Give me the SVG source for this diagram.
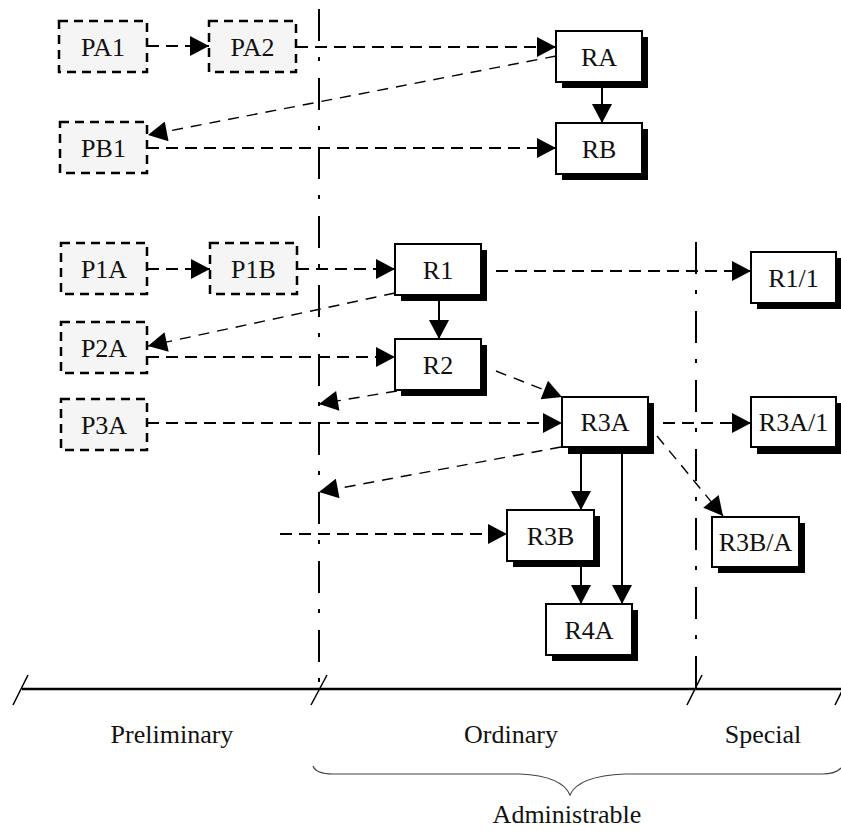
<svg xmlns="http://www.w3.org/2000/svg" width="841" height="831" viewBox="0 0 841 831">
<style>
.pbox{fill:#f5f5f5;stroke:#000;stroke-width:2.5;stroke-dasharray:9,6}
.rbox{fill:#fff;stroke:#000;stroke-width:2}
.shadow{fill:#000}
.lbl{font-family:"Liberation Serif","Times New Roman",serif;font-size:26px;text-anchor:middle;fill:#111}
.dash{fill:none;stroke:#000;stroke-width:2;stroke-dasharray:12,7;marker-end:url(#ah)}
.dashd{fill:none;stroke:#000;stroke-width:1.4;stroke-dasharray:11,8;marker-end:url(#ah)}
.solid{fill:none;stroke:#000;stroke-width:2;marker-end:url(#ah)}
.phase{fill:none;stroke:#000;stroke-width:2;stroke-dasharray:32,16,4,17}
.axis{fill:none;stroke:#000;stroke-width:2.5}
.tick{fill:none;stroke:#000;stroke-width:1.5}
</style>
<defs>
<marker id="ah" markerUnits="userSpaceOnUse" markerWidth="20" markerHeight="20" viewBox="0 0 19 20" refX="19" refY="10" orient="auto">
<path d="M0,0 L19,10 L0,20 z" fill="#000"/>
</marker>
</defs>
<rect width="841" height="831" fill="#fff"/>
<g id="phase-lines">
<line class="phase" x1="319" y1="9" x2="319" y2="690"/>
<line class="phase" x1="696" y1="242" x2="696" y2="690"/>
</g>
<g id="axis">
<line class="axis" x1="22" y1="689" x2="841" y2="689"/>
<line class="tick" x1="13" y1="705" x2="28" y2="675"/>
<line class="tick" x1="311" y1="705" x2="327" y2="675"/>
<line class="tick" x1="687" y1="705" x2="702" y2="675"/>
<line class="tick" x1="835" y1="705" x2="850" y2="675"/>
<path d="M313,766 Q316,774 333,774 L520,774 Q562,776 570,795 Q578,776 625,774 L822,774 Q836,774 841,768" fill="none" stroke="#444" stroke-width="1.2"/>
<text class="lbl" x="172" y="743">Preliminary</text>
<text class="lbl" x="511" y="743">Ordinary</text>
<text class="lbl" x="763" y="743">Special</text>
<text class="lbl" x="567" y="823">Administrable</text>
</g>
<g id="connectors">
<line class="dash" x1="147" y1="46" x2="209" y2="46"/>
<line class="dash" x1="296" y1="47" x2="556" y2="47"/>
<line class="dashd" x1="556" y1="56" x2="148" y2="135"/>
<line class="dash" x1="147" y1="148" x2="556" y2="148"/>
<line class="solid" x1="602" y1="88" x2="602" y2="123"/>
<line class="dash" x1="147" y1="269" x2="210" y2="269"/>
<line class="dash" x1="297" y1="269" x2="395" y2="269"/>
<line class="dash" x1="496" y1="271" x2="751" y2="271"/>
<line class="dashd" x1="395" y1="293" x2="148" y2="346"/>
<line class="solid" x1="439" y1="300" x2="439" y2="339"/>
<line class="dash" x1="147" y1="357" x2="395" y2="357"/>
<line class="dashd" x1="496" y1="371" x2="562" y2="397"/>
<line class="dashd" x1="397" y1="391" x2="319" y2="404"/>
<line class="dash" x1="147" y1="423" x2="562" y2="423"/>
<line class="dash" x1="663" y1="423" x2="751" y2="423"/>
<line class="dashd" x1="657" y1="436" x2="723" y2="516"/>
<line class="dashd" x1="561" y1="447" x2="319" y2="492"/>
<line class="solid" x1="581" y1="453" x2="581" y2="510"/>
<line class="solid" x1="622" y1="453" x2="622" y2="604"/>
<line class="dash" x1="280" y1="534" x2="507" y2="534"/>
<line class="solid" x1="581" y1="567" x2="581" y2="604"/>
</g>
<g id="PA1"><rect class="pbox" x="59" y="21" width="88" height="51"/><text class="lbl" x="103" y="56">PA1</text></g>
<g id="PA2"><rect class="pbox" x="209" y="21" width="87" height="51"/><text class="lbl" x="252.5" y="56">PA2</text></g>
<g id="PB1"><rect class="pbox" x="60" y="122" width="87" height="51"/><text class="lbl" x="103.5" y="157">PB1</text></g>
<g id="P1A"><rect class="pbox" x="61" y="243" width="86" height="51"/><text class="lbl" x="104" y="278">P1A</text></g>
<g id="P1B"><rect class="pbox" x="210" y="243" width="87" height="51"/><text class="lbl" x="253.5" y="278">P1B</text></g>
<g id="P2A"><rect class="pbox" x="61" y="322" width="86" height="51"/><text class="lbl" x="104" y="357">P2A</text></g>
<g id="P3A"><rect class="pbox" x="61" y="399" width="86" height="51"/><text class="lbl" x="104" y="434">P3A</text></g>
<g id="RA"><rect class="shadow" x="562" y="37" width="86" height="51"/><rect class="rbox" x="556" y="31" width="86" height="51"/><text class="lbl" x="599" y="66">RA</text></g>
<g id="RB"><rect class="shadow" x="562" y="129" width="86" height="51"/><rect class="rbox" x="556" y="123" width="86" height="51"/><text class="lbl" x="599" y="158">RB</text></g>
<g id="R1"><rect class="shadow" x="401" y="250" width="86" height="51"/><rect class="rbox" x="395" y="244" width="86" height="51"/><text class="lbl" x="438" y="279">R1</text></g>
<g id="R1-1"><rect class="shadow" x="757" y="258" width="85" height="51"/><rect class="rbox" x="751" y="252" width="85" height="51"/><text class="lbl" x="793.5" y="287">R1/1</text></g>
<g id="R2"><rect class="shadow" x="401" y="345" width="86" height="51"/><rect class="rbox" x="395" y="339" width="86" height="51"/><text class="lbl" x="438" y="374">R2</text></g>
<g id="R3A"><rect class="shadow" x="568" y="403" width="86" height="51"/><rect class="rbox" x="562" y="397" width="86" height="50"/><text class="lbl" x="605" y="431">R3A</text></g>
<g id="R3A-1"><rect class="shadow" x="757" y="403" width="85" height="51"/><rect class="rbox" x="751" y="397" width="85" height="50"/><text class="lbl" x="793.5" y="431">R3A/1</text></g>
<g id="R3B-A"><rect class="shadow" x="718" y="523" width="87" height="50"/><rect class="rbox" x="712" y="517" width="87" height="50"/><text class="lbl" x="755.5" y="551">R3B/A</text></g>
<g id="R3B"><rect class="shadow" x="513" y="516" width="87" height="51"/><rect class="rbox" x="507" y="510" width="87" height="51"/><text class="lbl" x="550.5" y="545">R3B</text></g>
<g id="R4A"><rect class="shadow" x="552" y="610" width="86" height="51"/><rect class="rbox" x="546" y="604" width="86" height="51"/><text class="lbl" x="589" y="639">R4A</text></g>
</svg>
